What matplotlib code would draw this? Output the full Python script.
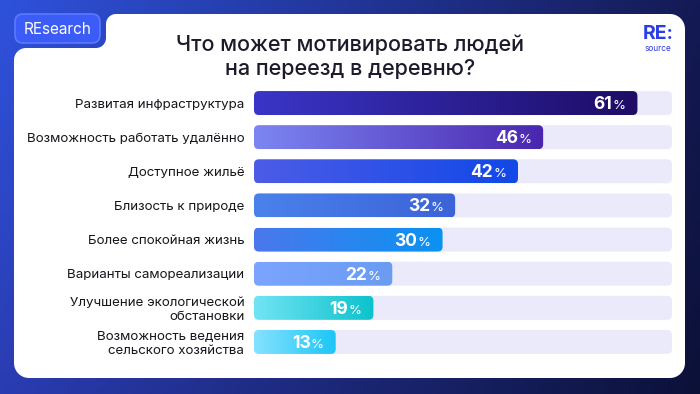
import numpy as np
import matplotlib.pyplot as plt
from matplotlib.patches import FancyBboxPatch, PathPatch
from matplotlib.path import Path
from matplotlib.colors import LinearSegmentedColormap, to_rgb

plt.rcParams['font.family'] = ['Inter', 'DejaVu Sans']

# data
categories = [
    'Развитая инфраструктура',
    'Возможность работать удалённо',
    'Доступное жильё',
    'Близость к природе',
    'Более спокойная жизнь',
    'Варианты самореализации',
    'Улучшение экологической\nобстановки',
    'Возможность ведения\nсельского хозяйства',
]
values = [61, 46, 42, 32, 30, 22, 19, 13]
start_colors = ['#3a35c8', '#7c86f2', '#4c5ce6', '#4a82ec', '#4a78ec', '#7ba4ff', '#72e4f4', '#86e2ff']
end_colors = ['#1e0c66', '#4a26b0', '#1148e8', '#3c62d8', '#0a92f2', '#6a9cf2', '#0cc2cc', '#1cc6f6']

title = 'Что может мотивировать людей\nна переезд в деревню?'

W, H = 700, 394
fig = plt.figure(figsize=(7, 3.94), dpi=100)

# background layer in pixel coordinates (y down)
bg = fig.add_axes([0, 0, 1, 1])
bg.set_xlim(0, W)
bg.set_ylim(H, 0)
bg.axis('off')

tl, tr, bl, br = [np.array(to_rgb(c)) for c in ('#2f52dc', '#141a54', '#2a3cb2', '#0c1138')]
gx = np.linspace(0, 1, 200)[None, :, None]
gy = np.linspace(0, 1, 120)[:, None, None]
grad_bg = (1 - gy) * ((1 - gx) * tl + gx * tr) + gy * ((1 - gx) * bl + gx * br)
bg.imshow(grad_bg, extent=(0, W, H, 0), aspect='auto', zorder=0)


def arc(cx, cy, r, a0, a1):
    a = np.radians(np.linspace(a0, a1, 12))
    return np.column_stack([cx + r * np.cos(a), cy + r * np.sin(a)])


# white card with a step cut out for the badge
L, R, T, B, STEP_X, STEP_Y = 14, 685, 14, 378, 106, 48
pts = np.vstack([
    arc(L + 12, STEP_Y + 12, 12, 180, 270),
    arc(STEP_X - 10, STEP_Y - 10, 10, 90, 0),
    arc(STEP_X + 10, T + 10, 10, 180, 270),
    arc(R - 15, T + 15, 15, 270, 360),
    arc(R - 15, B - 15, 15, 0, 90),
    arc(L + 15, B - 15, 15, 90, 180),
])
bg.add_patch(PathPatch(Path(np.vstack([pts, pts[:1]]), closed=True), fc='white', ec='none', zorder=1))

badge = FancyBboxPatch((15, 14), 85, 29, boxstyle='round,pad=0,rounding_size=8',
                       fc='#3b5cf6', ec='#5b78ff', lw=1.2, zorder=3)
bg.add_patch(badge)
bg.text(57.5, 29, 'REsearch', color='white', fontsize=11, ha='center', va='center', zorder=4)

bg.text(658, 34, 'RE:', color='#2b3de6', fontsize=14, fontweight='bold', ha='center', va='center', zorder=4)
bg.text(658, 48.5, 'source', color='#2b3de6', fontsize=6, ha='center', va='center', zorder=4)

bg.text(350, 57, title, color='#1b1b2b', fontsize=15.5, fontweight='medium',
        ha='center', va='center', linespacing=1.25, zorder=4)

# bars
XMAX = 66.5
n = len(values)
ax = fig.add_axes([254 / W, 1 - 359 / H, 418 / W, 273 / H])
ax.set_xlim(0, XMAX)
ax.set_ylim(n - 0.5, -0.5)
ax.patch.set_alpha(0)
for s in ax.spines.values():
    s.set_visible(False)
ax.set_xticks([])
ax.set_yticks(range(n))
ax.set_yticklabels(categories, fontsize=9.6, color='#16161c', linespacing=1.15)
ax.tick_params(axis='y', length=0, pad=7)

px_x = 418 / XMAX
px_y = 273 / n
bar_h = 24 / px_y
rad = 5 / px_x
asp = (5 / px_y) / rad

ramp = np.linspace(0, 1, 256)[None, :]
renderer = fig.canvas.get_renderer()
for i, v in enumerate(values):
    track = FancyBboxPatch((0, i - bar_h / 2), XMAX, bar_h,
                           boxstyle=f'round,pad=0,rounding_size={rad}', mutation_aspect=asp,
                           fc='#eaeafa', ec='none', zorder=1)
    ax.add_patch(track)
    bar = FancyBboxPatch((0, i - bar_h / 2), v, bar_h,
                         boxstyle=f'round,pad=0,rounding_size={rad}', mutation_aspect=asp,
                         fc='none', ec='none', zorder=2)
    ax.add_patch(bar)
    cmap = LinearSegmentedColormap.from_list(f'g{i}', [start_colors[i], end_colors[i]])
    im = ax.imshow(ramp, cmap=cmap, extent=(0, v, i + bar_h / 2, i - bar_h / 2),
                   aspect='auto', zorder=2)
    im.set_clip_path(bar)

    # bold number followed by a lighter, smaller percent sign
    pct = ax.annotate('%', xy=(v, i), xytext=(-8.6, -4.3), textcoords='offset points',
                      ha='right', va='baseline', fontsize=9.5, color='white', zorder=3)
    w_pt = pct.get_window_extent(renderer).width * 72 / fig.dpi
    ax.annotate(str(v), xy=(v, i), xytext=(-8.6 - w_pt - 0.2, -4.3), textcoords='offset points',
                ha='right', va='baseline', fontsize=12.5, fontweight='bold', color='white', zorder=3)

ax.set_xlim(0, XMAX)
ax.set_ylim(n - 0.5, -0.5)

fig.savefig('out.png', dpi=100)
